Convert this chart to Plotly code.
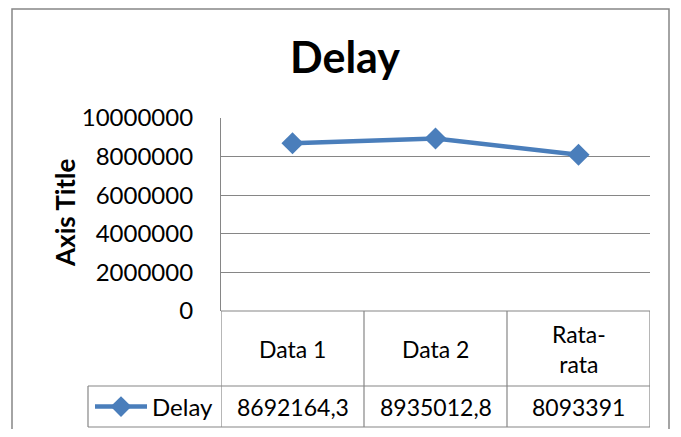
import plotly.graph_objects as go

categories = ["Data 1", "Data 2", "Rata-rata"]
header_labels = ["Data 1", "Data 2", "Rata-<br>rata"]
series_name = "Delay"
delay_values = [8692164.3, 8935012.8, 8093391]
y_ticks = [0, 2000000, 4000000, 6000000, 8000000, 10000000]

OFF = 8  # default page body margin
W, H = 681 - 2 * OFF, 437 - 2 * OFF
L, R, T, B = 221, 650, 118, 311  # page pixel positions of plot area
FONT = "Lato"
GRID = "#868686"
LINE = "#4A7EBB"


def px(x):
    return (x - L) / (R - L)


def py(y):
    return (B - y) / (B - T)


def fmt(v):
    s = ("%.1f" % v).rstrip("0").rstrip(".")
    return s.replace(".", ",")


fig = go.Figure()
fig.add_trace(go.Scatter(
    x=categories, y=delay_values, name=series_name, mode="lines+markers",
    line=dict(color=LINE, width=4.5),
    marker=dict(symbol="diamond", size=17, color=LINE),
    showlegend=True,
))

shapes = []
shapes.append(dict(type="rect", xref="paper", yref="paper",
                   x0=px(12), x1=px(669), y0=py(9), y1=py(445),
                   line=dict(color=GRID, width=1.5), fillcolor="rgba(0,0,0,0)", layer="below"))
n = len(categories)
ytab_mid = py(386)
ytab_bot = py(427)
for i in range(n + 1):
    shapes.append(dict(type="line", xref="x", yref="paper", x0=i - 0.5, x1=i - 0.5,
                       y0=0, y1=ytab_bot, line=dict(color=GRID, width=1.2)))
shapes.append(dict(type="line", xref="paper", yref="paper", x0=px(88), x1=1,
                   y0=ytab_mid, y1=ytab_mid, line=dict(color=GRID, width=1.2)))
shapes.append(dict(type="line", xref="paper", yref="paper", x0=px(88), x1=1,
                   y0=ytab_bot, y1=ytab_bot, line=dict(color=GRID, width=1.2)))
shapes.append(dict(type="line", xref="paper", yref="paper", x0=px(88), x1=px(88),
                   y0=ytab_mid, y1=ytab_bot, line=dict(color=GRID, width=1.2)))
shapes.append(dict(type="line", xref="paper", yref="paper", x0=0, x1=1,
                   y0=0, y1=0, line=dict(color=GRID, width=1.2)))

annotations = []
for c, lab, v in zip(categories, header_labels, delay_values):
    annotations.append(dict(x=c, xref="x", y=py(349), yref="paper", text=lab,
                            showarrow=False, font=dict(family=FONT, size=23, color="black"),
                            xanchor="center", yanchor="middle"))
    annotations.append(dict(x=c, xref="x", y=py(407), yref="paper", text=fmt(v),
                            showarrow=False, font=dict(family=FONT, size=23, color="black"),
                            xanchor="center", yanchor="middle"))
annotations.append(dict(x=px(65), xref="paper", y=py(213), yref="paper", text="<b>Axis Title</b>",
                        textangle=-90, showarrow=False,
                        font=dict(family=FONT, size=26, color="black"),
                        xanchor="center", yanchor="middle"))

fig.update_layout(
    width=W, height=H,
    margin=dict(l=L - OFF, r=W - (R - OFF), t=T - OFF, b=H - (B - OFF), pad=0,
                autoexpand=False),
    paper_bgcolor="white", plot_bgcolor="white",
    title=dict(text="<b>Delay</b>", x=px(345), xref="paper", xanchor="center",
               y=1 - (58 - OFF) / H, yref="container", yanchor="middle",
               font=dict(family=FONT, size=43, color="black")),
    font=dict(family=FONT, size=23, color="black"),
    xaxis=dict(type="category", range=[-0.5, n - 0.5], showticklabels=False,
               showgrid=False, zeroline=False, showline=False, ticks=""),
    yaxis=dict(range=[0, 10000000], tickvals=y_ticks, ticktext=[str(t) for t in y_ticks],
               showgrid=True, gridcolor=GRID, gridwidth=1.2, zeroline=False,
               showline=True, linecolor=GRID, linewidth=1.2, ticks="",
               ticklabelstandoff=22, tickfont=dict(family=FONT, size=24, color="black")),
    legend=dict(x=px(90), y=py(407), xanchor="left", yanchor="middle",
                bgcolor="rgba(0,0,0,0)", borderwidth=0,
                font=dict(family=FONT, size=24, color="black"), itemwidth=52),
    shapes=shapes, annotations=annotations,
)

fig.write_html("out.html")
